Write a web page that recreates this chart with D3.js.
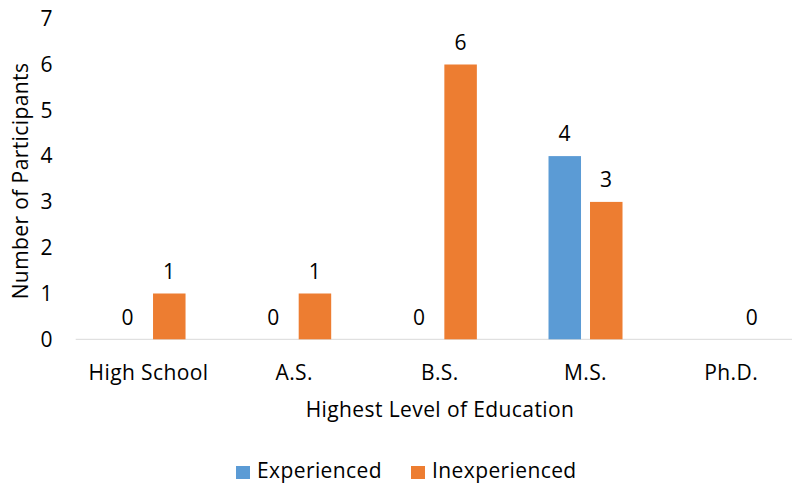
<!DOCTYPE html>
<html><head><meta charset="utf-8">
<script src="https://cdn.jsdelivr.net/npm/d3@7"></script>
<style>body{margin:0;background:#fff;} text{font-family:"Open Sans", sans-serif; fill:#000; letter-spacing:0.4px;}</style>
</head><body>
<svg id="c" width="792" height="485"></svg>
<script>
const categories = ["High School", "A.S.", "B.S.", "M.S.", "Ph.D."];
const experienced = [0, 0, 0, 4, null];
const inexperienced = [1, 1, 6, 3, 0];
const seriesNames = ["Experienced", "Inexperienced"];
const colors = ["#5B9BD5", "#ED7D31"];
const yTicks = [0, 1, 2, 3, 4, 5, 6, 7];

const svg = d3.select("#c");
const fs = 21;
const x = d3.scaleBand().domain(categories).range([75.7, 804]);
const y = d3.scaleLinear().domain([0, 7]).range([339.3, 18.7]);
const barW = 32.5, gap = 9;

// axis line
svg.append("line").attr("x1", 75.7).attr("x2", 792).attr("y1", y(0)).attr("y2", y(0))
  .attr("stroke", "#D9D9D9").attr("stroke-width", 1);

// y tick labels
svg.append("g").selectAll("text").data(yTicks).join("text")
  .attr("x", 53).attr("y", d => y(d)).attr("dy", "0.35em").attr("text-anchor", "end")
  .style("font-size", fs + "px").text(d => d);

// x labels
svg.append("g").selectAll("text").data(categories).join("text")
  .attr("x", d => x(d) + x.bandwidth() / 2).attr("y", 373).attr("dy", "0.35em")
  .attr("text-anchor", "middle").style("font-size", fs + "px").text(d => d);

const series = [experienced, inexperienced];
series.forEach((vals, si) => {
  const off = si === 0 ? -(gap / 2 + barW) : gap / 2;
  const data = categories.map((c, i) => ({ c, v: vals[i] })).filter(d => d.v !== null);
  svg.append("g").selectAll("rect").data(data).join("rect")
    .attr("x", d => x(d.c) + x.bandwidth() / 2 + off)
    .attr("width", barW)
    .attr("y", d => y(d.v)).attr("height", d => y(0) - y(d.v))
    .attr("fill", colors[si]);
  svg.append("g").selectAll("text").data(data).join("text")
    .attr("x", d => x(d.c) + x.bandwidth() / 2 + off + barW / 2)
    .attr("y", d => y(d.v) - 22).attr("dy", "0.35em").attr("text-anchor", "middle")
    .style("font-size", fs + "px").text(d => d.v);
});

// axis titles
svg.append("text").attr("x", 440).attr("y", 410).attr("dy", "0.35em").attr("text-anchor", "middle")
  .style("font-size", fs + "px").text("Highest Level of Education");
svg.append("text").attr("transform", "translate(21,181) rotate(-90)").attr("dy", "0.35em")
  .attr("text-anchor", "middle").style("font-size", fs + "px").text("Number of Participants");

// legend
const legX = [236, 411];
seriesNames.forEach((n, i) => {
  svg.append("rect").attr("x", legX[i]).attr("y", 466).attr("width", 14).attr("height", 13).attr("fill", colors[i]);
  svg.append("text").attr("x", i === 0 ? 257 : 432).attr("y", 471).attr("dy", "0.35em").style("font-size", fs + "px").text(n);
});
</script>
</body></html>
